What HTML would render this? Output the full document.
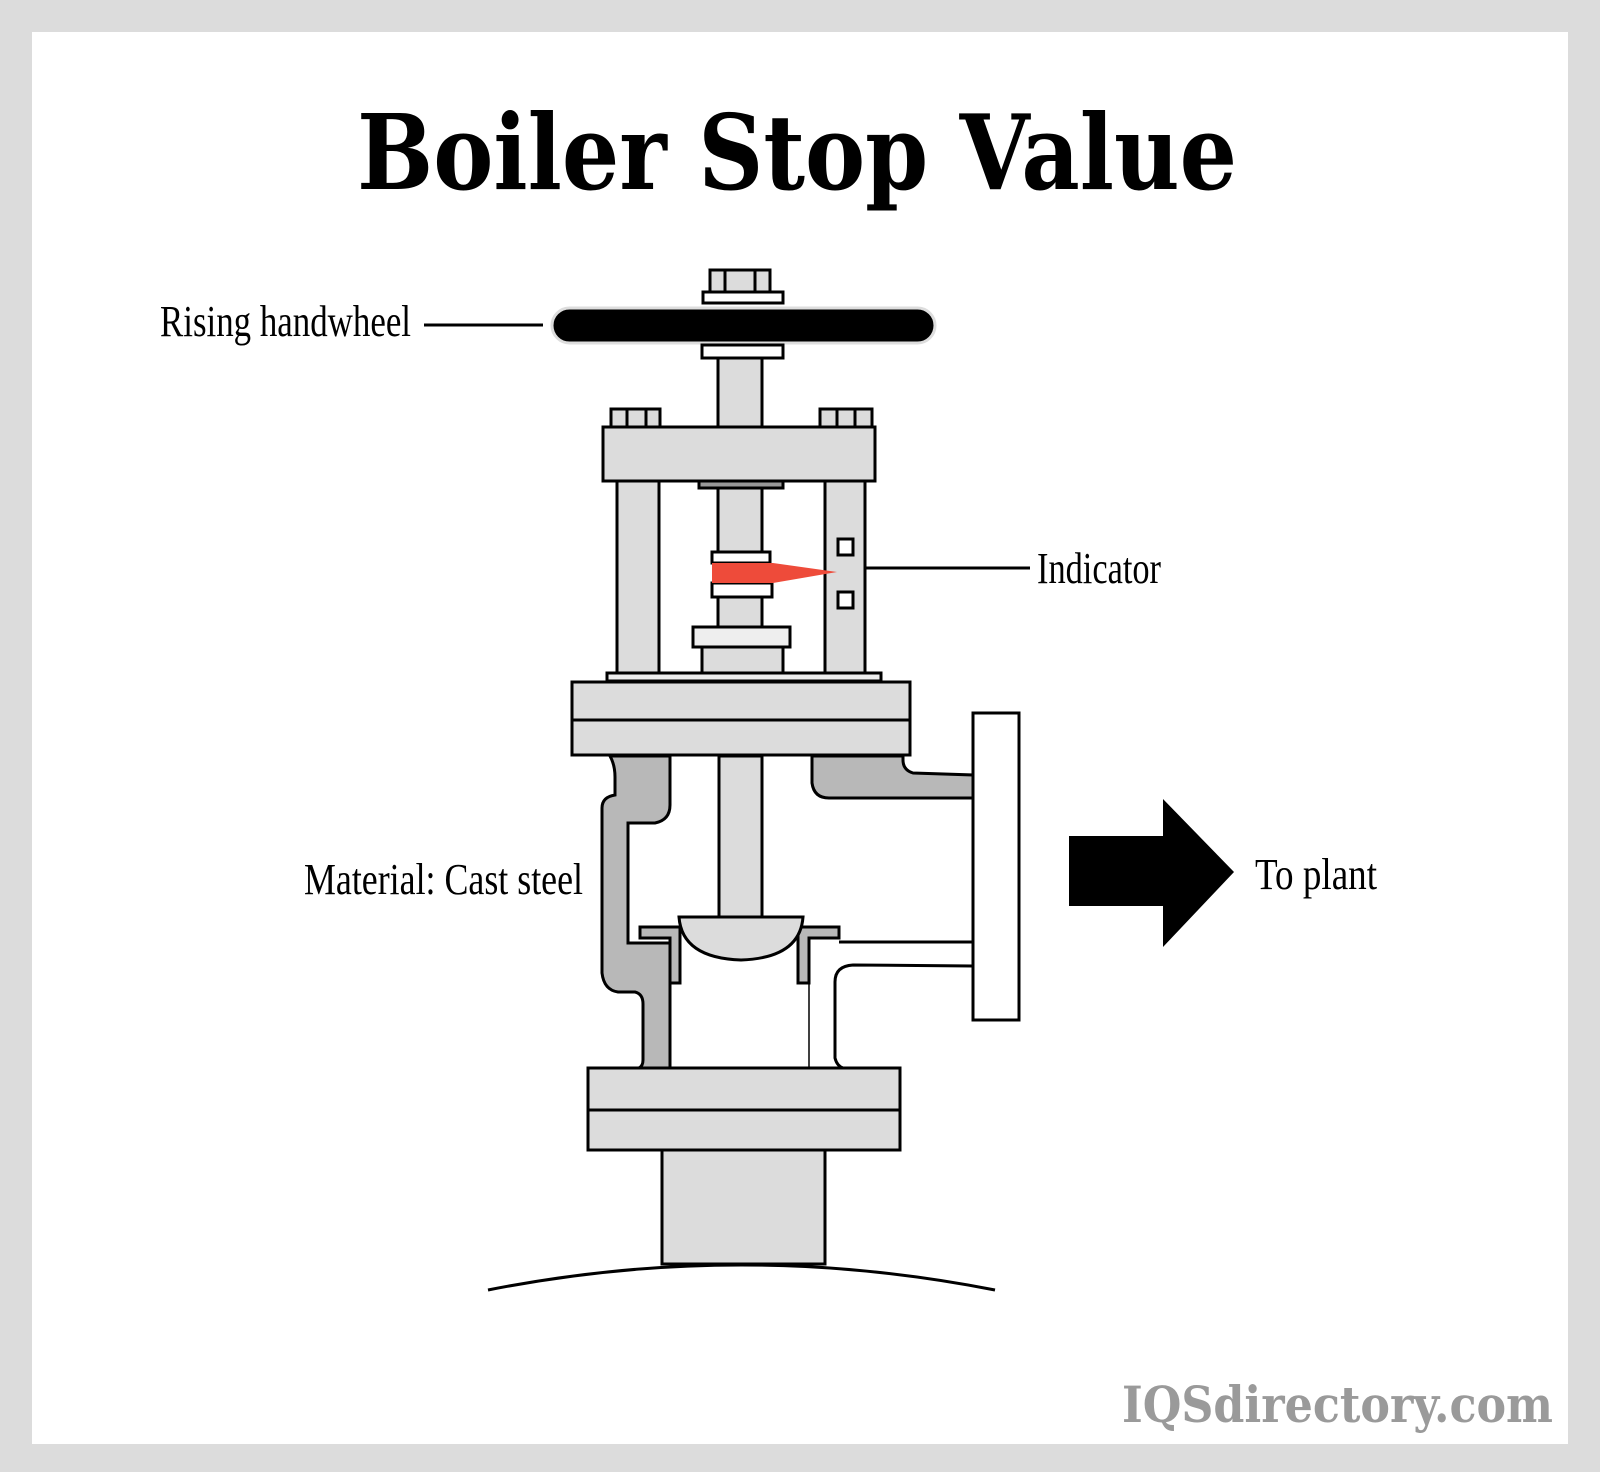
<!DOCTYPE html>
<html><head><meta charset="utf-8"><style>
html,body{margin:0;padding:0;background:#fff}
svg{display:block}
</style></head><body>
<svg width="1600" height="1472" viewBox="0 0 1600 1472" xmlns="http://www.w3.org/2000/svg">
<rect x="0" y="0" width="1600" height="1472" fill="#dcdcdc"/>
<rect x="32" y="32" width="1536" height="1412" fill="#fff"/>
<text x="797" y="189" text-anchor="middle" font-family="DejaVu Serif, Liberation Serif, serif" font-weight="bold" font-size="104" textLength="880" lengthAdjust="spacingAndGlyphs" fill="#000">Boiler Stop Value</text>
<g font-family="Liberation Serif, serif" font-size="44" fill="#000">
<text x="160" y="336" textLength="251" lengthAdjust="spacingAndGlyphs">Rising handwheel</text>
<text x="1037" y="583" textLength="124" lengthAdjust="spacingAndGlyphs">Indicator</text>
<text x="304" y="894" textLength="279" lengthAdjust="spacingAndGlyphs">Material: Cast steel</text>
<text x="1255" y="889" textLength="122" lengthAdjust="spacingAndGlyphs">To plant</text>
</g>
<text x="1553" y="1422" text-anchor="end" font-family="DejaVu Serif, serif" font-weight="bold" font-size="50" textLength="431" lengthAdjust="spacingAndGlyphs" fill="#9a9a9a">IQSdirectory.com</text>
<g stroke="#000" stroke-width="3" fill="#dcdcdc">
<line x1="424" y1="325" x2="543" y2="325"/>
<line x1="827" y1="568" x2="1030" y2="568"/>
<!-- top nut and wheel -->
<rect x="710" y="270" width="60" height="22"/>
<line x1="725" y1="270" x2="725" y2="292"/><line x1="755" y1="270" x2="755" y2="292"/>
<rect x="703" y="292" width="80" height="11" fill="#fff"/>
<rect x="552" y="308" width="383" height="35" rx="17.5" fill="#000" stroke="#ddd" stroke-width="3"/>
<rect x="702" y="345" width="81" height="13" fill="#fff"/>
<rect x="718" y="358" width="44" height="69"/>
<!-- bolts -->
<rect x="611" y="409" width="49" height="18"/><line x1="627" y1="409" x2="627" y2="427"/><line x1="646" y1="409" x2="646" y2="427"/>
<rect x="820" y="409" width="52" height="18"/><line x1="837" y1="409" x2="837" y2="427"/><line x1="855" y1="409" x2="855" y2="427"/>
<rect x="603" y="427" width="272" height="54"/>
<rect x="699" y="481" width="84" height="7" fill="#999"/>
<rect x="718" y="488" width="44" height="139"/>
<rect x="617" y="481" width="42" height="192"/>
<rect x="825" y="481" width="40" height="192"/>
<rect x="838" y="539" width="15" height="16" fill="#fff"/>
<rect x="838" y="592" width="15" height="16" fill="#fff"/>
<rect x="712" y="552" width="58" height="11" fill="#fff"/>
<rect x="712" y="583" width="60" height="14" fill="#fff"/>
<polygon points="712,563 773,563 837,572 773,583 712,583" fill="#ee4b3a" stroke="none"/>
<rect x="693" y="627" width="97" height="20" fill="#eee"/>
<rect x="702" y="647" width="81" height="26"/>
<rect x="607" y="673" width="274" height="8" fill="#eee"/>
<rect x="572" y="682" width="338" height="73"/>
<line x1="572" y1="720" x2="910" y2="720"/>
<!-- body -->
<path d="M610,756 Q615,765 615,777 L615,795 Q602,797 602,808 L602,973 Q604,990 618,992 L635,992 Q643,994 643,1004 L643,1060 Q643,1066 639,1068 L670,1068 L670,943 L628,943 L628,823 L655,823 Q670,820 670,805 L670,756 Z" fill="#b8b8b8"/>
<path d="M812,756 L812,783 Q814,798 829,798 L973,798 L973,775 L913,773 Q903,770 903,760 L903,756 Z" fill="#b8b8b8"/>
<path d="M839,942 L973,942 M973,966 L853,965 Q835,966 835,982 L835,1058 Q837,1066 843,1068" fill="none"/>
<line x1="809" y1="983" x2="809" y2="1068" stroke-width="1.5"/>
<rect x="973" y="713" width="46" height="307" fill="#fff"/>
<rect x="719" y="756" width="43" height="161"/>
<path d="M640,927 L680,927 L680,983 L670,983 L670,938 L640,938 Z" fill="#b8b8b8"/>
<path d="M839,927 L798,927 L798,983 L809,983 L809,938 L839,938 Z" fill="#b8b8b8"/>
<path d="M679,917 L803,917 Q800,958 741,960 Q682,958 679,917 Z"/>
<rect x="588" y="1068" width="312" height="82"/>
<line x1="588" y1="1110" x2="900" y2="1110"/>
<rect x="662" y="1150" width="163" height="114"/>
<path d="M488,1290 Q741,1240 995,1290" fill="none"/>
</g>
<polygon points="1069,836 1163,836 1163,799 1234,872 1163,947 1163,906 1069,906" fill="#000"/>
</svg>
</body></html>
